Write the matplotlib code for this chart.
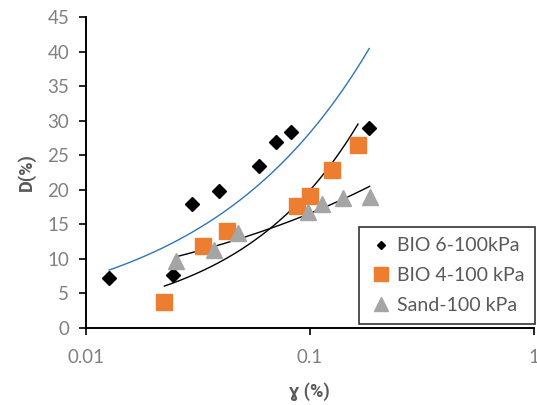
import numpy as np
import matplotlib
matplotlib.use('Agg')
import matplotlib.pyplot as plt

plt.rcParams['font.family'] = ['Lato', 'DejaVu Sans']

# dane
bio6_x = [0.0127, 0.0244, 0.0299, 0.0394, 0.0594, 0.0705, 0.0820, 0.184]
bio6_y = [7.2, 7.7, 17.9, 19.9, 23.5, 26.9, 28.3, 29.0]

bio4_x = [0.0224, 0.0334, 0.0425, 0.0877, 0.0997, 0.125, 0.164]
bio4_y = [3.7, 11.9, 14.1, 17.7, 19.1, 22.9, 26.5]

sand_x = [0.0252, 0.0374, 0.0479, 0.0986, 0.113, 0.140, 0.185]
sand_y = [9.7, 11.3, 13.8, 16.8, 17.9, 18.8, 18.9]

# linie trendu (potegowe y = a * x^b)
trend_bio6 = (109.4, 0.588)
trend_bio4 = (124.0, 0.794)
trend_sand = (36.7, 0.345)

grey = '#808080'
dark = '#595959'

fig = plt.figure(figsize=(5.37, 4.05), dpi=100)
ax = fig.add_axes([0.160, 0.190, 0.834, 0.768])

def trend(xs, coef, **kw):
    xx = np.logspace(np.log10(min(xs)), np.log10(max(xs)), 100)
    ax.plot(xx, coef[0] * xx ** coef[1], **kw)

trend(bio6_x, trend_bio6, color='#2E75B6', lw=1.0, zorder=2)
trend(bio4_x, trend_bio4, color='black', lw=1.0, zorder=2)
trend(sand_x, trend_sand, color='black', lw=1.0, zorder=2)

ax.plot(bio6_x, bio6_y, 'D', color='black', ms=7.6, ls='none', label='BIO 6-100kPa', zorder=3)
ax.plot(bio4_x, bio4_y, 's', color='#ED7D31', ms=12, ls='none', label='BIO 4-100 kPa', zorder=3)
ax.plot(sand_x, sand_y, '^', color='#A5A5A5', ms=11, ls='none', label='Sand-100 kPa', zorder=3)

ax.set_xscale('log')
ax.set_xlim(0.01, 1)
ax.set_ylim(0, 45)
ax.set_yticks(range(0, 46, 5))
ax.set_xticks([0.01, 0.1, 1])
ax.set_xticklabels(['0.01', '0.1', '1'])
ax.minorticks_off()

for s in ['top', 'right']:
    ax.spines[s].set_visible(False)
for s in ['left', 'bottom']:
    ax.spines[s].set_linewidth(1.4)
    ax.spines[s].set_color('black')

ax.tick_params(axis='both', direction='out', length=5, width=1.2, colors='black',
               labelcolor=grey, labelsize=13.5)
ax.tick_params(axis='y', pad=7)
ax.tick_params(axis='x', pad=10)

lab_font = ['Roboto', 'DejaVu Sans']
ax.set_ylabel('D(%)', fontsize=13, fontweight='bold', color=dark, labelpad=8, family=lab_font)
ax.set_xlabel('ɣ (%)', fontsize=13, fontweight='bold', color=dark, labelpad=12, family=lab_font)

leg = ax.legend(loc='lower right', bbox_to_anchor=(1.003, 0.012), borderaxespad=0,
                fancybox=False, edgecolor='black', fontsize=14, labelspacing=0.65,
                handletextpad=0.2, handlelength=1.2, borderpad=0.55)
leg.get_frame().set_linewidth(1.2)
for h, ms in zip(leg.legend_handles, [4.2, 9.5, 9.5]):
    h.set_markersize(ms)
for t in leg.get_texts():
    t.set_color(dark)

fig.savefig('out.png', dpi=100)
